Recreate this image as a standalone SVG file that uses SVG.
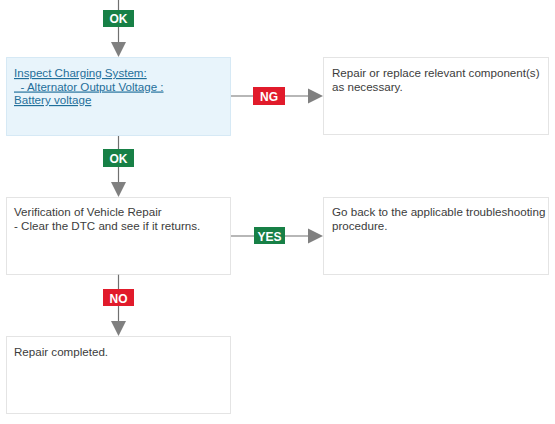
<svg xmlns="http://www.w3.org/2000/svg" width="555" height="424" viewBox="0 0 555 424">
<style>
.box{fill:#ffffff;stroke:#c8c8c8;stroke-width:1;stroke-dasharray:1 1}
.boxb{fill:#e8f4fb;stroke:#b8d8ec;stroke-width:1;stroke-dasharray:1 1}
.t{font-family:"Liberation Sans",Arial,sans-serif;font-size:11.6px;fill:#3c3c3c}
.lk{font-family:"Liberation Sans",Arial,sans-serif;font-size:11.6px;fill:#1f6f9a;text-decoration:underline}
.ln{stroke:#707070;stroke-width:1.2;fill:none}
.ah{fill:#808080}
.g{fill:#178046}
.r{fill:#e11b2b}
.bt{font-family:"Liberation Sans",Arial,sans-serif;font-size:12px;font-weight:bold;fill:#ffffff;text-anchor:middle}
</style>
<g id="connectors">
<line class="ln" x1="118.5" y1="0" x2="118.5" y2="43"/>
<polygon class="ah" points="111,42 126,42 118.5,57"/>
<rect class="g" x="103" y="10" width="31" height="17"/>
<text class="bt" x="118.5" y="23">OK</text>

<line class="ln" x1="231" y1="96" x2="309" y2="96"/>
<polygon class="ah" points="308,88.5 308,103.5 323,96"/>
<rect class="r" x="253" y="87" width="32" height="18"/>
<text class="bt" x="269" y="101">NG</text>

<line class="ln" x1="118.5" y1="136" x2="118.5" y2="183"/>
<polygon class="ah" points="111,182 126,182 118.5,197"/>
<rect class="g" x="103" y="149" width="31" height="18"/>
<text class="bt" x="118.5" y="162.5">OK</text>

<line class="ln" x1="231" y1="236" x2="309" y2="236"/>
<polygon class="ah" points="308,228.5 308,243.5 323,236"/>
<rect class="g" x="254" y="227" width="31" height="17"/>
<text class="bt" x="269.5" y="240.5">YES</text>

<line class="ln" x1="118.5" y1="274" x2="118.5" y2="322"/>
<polygon class="ah" points="111,321 126,321 118.5,336"/>
<rect class="r" x="103" y="289" width="31" height="17"/>
<text class="bt" x="118.5" y="302.5">NO</text>
</g>
<g id="n1">
<rect class="boxb" x="6.5" y="57.5" width="224" height="78"/>
<text class="lk" x="14" y="77">Inspect Charging System:</text>
<text class="lk" x="14" y="90.5" xml:space="preserve">  - Alternator Output Voltage :</text>
<text class="lk" x="14" y="104">Battery voltage</text>
</g>
<g id="n2">
<rect class="box" x="323.5" y="57.5" width="225" height="77"/>
<text class="t" x="332" y="77">Repair or replace relevant component(s)</text>
<text class="t" x="332" y="90.5">as necessary.</text>
</g>
<g id="n3">
<rect class="box" x="6.5" y="197.5" width="224" height="77"/>
<text class="t" x="14" y="216">Verification of Vehicle Repair</text>
<text class="t" x="14" y="229.5">- Clear the DTC and see if it returns.</text>
</g>
<g id="n4">
<rect class="box" x="323.5" y="197.5" width="225" height="77"/>
<text class="t" x="332" y="216">Go back to the applicable troubleshooting</text>
<text class="t" x="332" y="229.5">procedure.</text>
</g>
<g id="n5">
<rect class="box" x="6.5" y="336.5" width="224" height="77"/>
<text class="t" x="14" y="356">Repair completed.</text>
</g>
</svg>
